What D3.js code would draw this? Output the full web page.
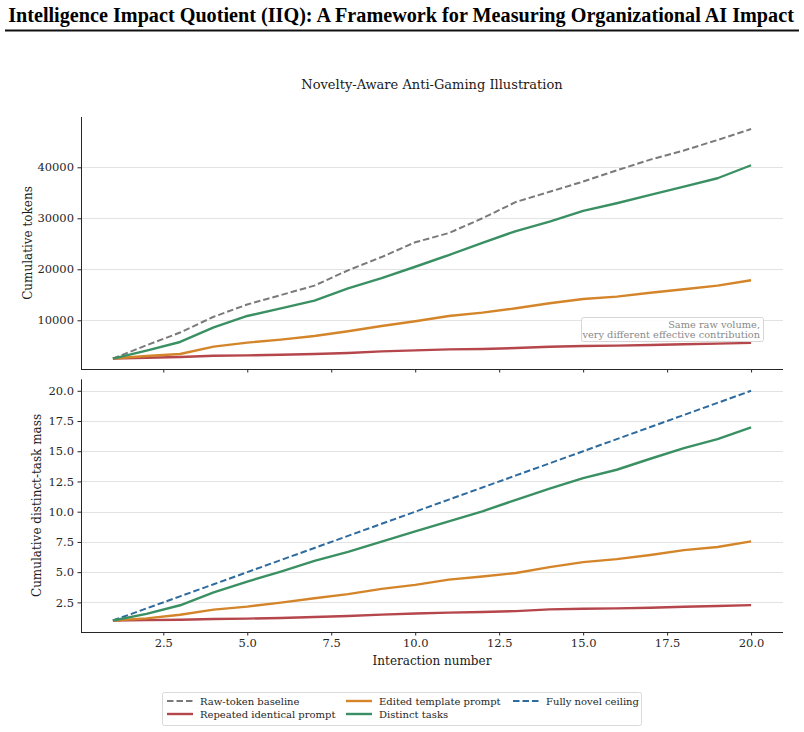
<!DOCTYPE html>
<html>
<head>
<meta charset="utf-8">
<script src="https://cdn.jsdelivr.net/npm/d3@7"></script>
<style>
	body{margin:0;background:#fff;}
	svg text{font-family:"DejaVu Serif",serif;}
	.tick text{font-size:11.5px;fill:#262626;}
	.tick line{stroke:#262626;}
	.domain{stroke:#262626;}
</style>
</head>
<body>
<div id="chart"></div>
<script>

// interaction index
const interactions = d3.range(1, 21);

// top panel: cumulative tokens
const rawTokens = [2500, 5100, 7600, 10700, 13100, 14950, 16800, 19800, 22400, 25300,
	27100, 30000, 33200, 35200, 37200, 39400, 41500, 43300, 45350, 47500];
const repeatedTokens = [2500, 2650, 2800, 3050, 3120, 3250, 3380, 3580, 3900, 4100,
	4300, 4380, 4560, 4820, 4950, 5030, 5160, 5290, 5420, 5580];
const editedTokens = [2500, 3000, 3400, 4830, 5620, 6200, 6920, 7840, 8880, 9800,
	10840, 11500, 12350, 13330, 14180, 14650, 15400, 16080, 16790, 17840];
const distinctTokens = [2500, 4050, 5750, 8600, 10850, 12350, 13850, 16250, 18250, 20500,
	22800, 25200, 27500, 29350, 31450, 32950, 34600, 36200, 37850, 40400];

// bottom panel: cumulative distinct-task mass
const repeatedMass = [1.0, 1.03, 1.06, 1.12, 1.16, 1.21, 1.29, 1.37, 1.49, 1.58,
	1.65, 1.70, 1.78, 1.92, 1.97, 2.0, 2.06, 2.14, 2.2, 2.27];
const editedMass = [1.0, 1.18, 1.48, 1.9, 2.15, 2.48, 2.84, 3.18, 3.62, 3.95,
	4.38, 4.64, 4.93, 5.42, 5.83, 6.08, 6.42, 6.82, 7.08, 7.55];
const distinctMass = [1.0, 1.55, 2.26, 3.32, 4.22, 5.05, 5.93, 6.67, 7.53, 8.37,
	9.2, 10.03, 10.98, 11.9, 12.78, 13.47, 14.38, 15.26, 16.0, 16.97];
const novelMass = interactions.slice();

const xTicks = [2.5, 5, 7.5, 10, 12.5, 15, 17.5, 20];
const topYTicks = [10000, 20000, 30000, 40000];
const bottomYTicks = [2.5, 5, 7.5, 10, 12.5, 15, 17.5, 20];

const series = {
	raw: {label: "Raw-token baseline", color: "#7a7a7a", dash: "6.5,3", width: 2},
	repeated: {label: "Repeated identical prompt", color: "#b5464b", dash: null, width: 2.4},
	edited: {label: "Edited template prompt", color: "#d4852a", dash: null, width: 2.4},
	distinct: {label: "Distinct tasks", color: "#3a9063", dash: null, width: 2.4},
	novel: {label: "Fully novel ceiling", color: "#2e6b9e", dash: "6.5,3", width: 2}
};

function draw(){

	const width = 804, height = 732;
	const left = 81, right = 783;

	let svg = d3.select("#chart").append("svg")
		.attr("width", width)
		.attr("height", height);

	//header
	svg.append("text")
		.attr("x", 401)
		.attr("y", 22)
		.attr("text-anchor", "middle")
		.style("font-family", "'Liberation Serif', 'Times New Roman', serif")
		.style("font-weight", "bold")
		.style("font-size", "20.2px")
		.attr("fill", "#000")
		.text("Intelligence Impact Quotient (IIQ): A Framework for Measuring Organizational AI Impact");

	svg.append("line")
		.attr("x1", 5).attr("x2", 799)
		.attr("y1", 30.5).attr("y2", 30.5)
		.attr("stroke", "#111")
		.attr("stroke-width", 2);

	svg.append("text")
		.attr("x", (left+right)/2)
		.attr("y", 89)
		.attr("text-anchor", "middle")
		.style("font-size", "13px")
		.attr("fill", "#1a1a1a")
		.text("Novelty-Aware Anti-Gaming Illustration");

	let x = d3.scaleLinear().domain([0.05, 20.95]).range([left, right]);

	//top panel
	let yTop = d3.scaleLinear().domain([450, 49860]).range([369, 117]);
	//bottom panel
	let yBot = d3.scaleLinear().domain([0.05, 20.95]).range([632, 379.3]);

	function panel(y, ticks, fmt, showXLabels){
		let g = svg.append("g");
		let [y0, y1] = y.range();

		//grid
		g.append("g").selectAll("line")
			.data(ticks)
			.enter().append("line")
			.attr("x1", left).attr("x2", right)
			.attr("y1", d => Math.round(y(d)) + 0.5)
			.attr("y2", d => Math.round(y(d)) + 0.5)
			.attr("stroke", "#e3e3e3")
			.attr("stroke-width", 1);

		g.append("g")
			.attr("transform", "translate(" + left + ",0)")
			.call(d3.axisLeft(y).tickValues(ticks).tickFormat(fmt).tickSizeInner(3.5).tickSizeOuter(0).tickPadding(3.5))
			.call(a => a.select(".domain").attr("d", "M0.5," + y0 + "V" + y1));

		g.append("g")
			.attr("transform", "translate(0," + y0 + ")")
			.call(d3.axisBottom(x).tickValues(xTicks).tickFormat(showXLabels ? d3.format(".1f") : "").tickSizeInner(3.5).tickSizeOuter(0).tickPadding(3.5))
			.call(a => a.select(".domain").attr("d", "M" + left + ",0.5H" + right));

		g.selectAll(".tick text").style("font-size", "11.5px");
		return g;
	}

	let gTop = panel(yTop, topYTicks, d3.format("d"), false);
	let gBot = panel(yBot, bottomYTicks, d3.format(".1f"), true);

	function addLine(g, y, values, s){
		let line = d3.line()
			.x((d, i) => x(interactions[i]))
			.y(d => y(d));
		g.append("path")
			.datum(values)
			.attr("d", line)
			.attr("fill", "none")
			.attr("stroke", s.color)
			.attr("stroke-width", s.width)
			.attr("stroke-dasharray", s.dash)
			.attr("stroke-linejoin", "round");
	}

	addLine(gTop, yTop, rawTokens, series.raw);
	addLine(gTop, yTop, repeatedTokens, series.repeated);
	addLine(gTop, yTop, editedTokens, series.edited);
	addLine(gTop, yTop, distinctTokens, series.distinct);

	addLine(gBot, yBot, novelMass, series.novel);
	addLine(gBot, yBot, repeatedMass, series.repeated);
	addLine(gBot, yBot, editedMass, series.edited);
	addLine(gBot, yBot, distinctMass, series.distinct);

	//annotation box
	gTop.append("rect")
		.attr("x", 581.5).attr("y", 317.5)
		.attr("width", 182).attr("height", 24)
		.attr("rx", 2)
		.attr("fill", "#fff")
		.attr("fill-opacity", 0.85)
		.attr("stroke", "#d6d6d6");
	gTop.append("text")
		.attr("x", 760).attr("y", 327.5)
		.attr("text-anchor", "end")
		.style("font-size", "9.8px")
		.attr("fill", "#8a8a8a")
		.text("Same raw volume,");
	gTop.append("text")
		.attr("x", 760).attr("y", 338)
		.attr("text-anchor", "end")
		.style("font-size", "9.8px")
		.attr("fill", "#8a8a8a")
		.text("very different effective contribution");

	//axis labels
	svg.append("text")
		.attr("transform", "translate(32," + ((117+369)/2) + ") rotate(-90)")
		.attr("text-anchor", "middle")
		.style("font-size", "12px")
		.attr("fill", "#1a1a1a")
		.text("Cumulative tokens");

	svg.append("text")
		.attr("transform", "translate(41," + ((379+632)/2) + ") rotate(-90)")
		.attr("text-anchor", "middle")
		.style("font-size", "12px")
		.attr("fill", "#1a1a1a")
		.text("Cumulative distinct-task mass");

	svg.append("text")
		.attr("x", (left+right)/2)
		.attr("y", 665)
		.attr("text-anchor", "middle")
		.style("font-size", "12px")
		.attr("fill", "#1a1a1a")
		.text("Interaction number");

	//legend
	let legend = svg.append("g");
	legend.append("rect")
		.attr("x", 162.5).attr("y", 692.5)
		.attr("width", 479).attr("height", 33)
		.attr("rx", 2)
		.attr("fill", "#fff")
		.attr("stroke", "#d9d9d9");

	let items = [
		{s: series.raw, x: 167, y: 701},
		{s: series.repeated, x: 167, y: 714},
		{s: series.edited, x: 346, y: 701},
		{s: series.distinct, x: 346, y: 714},
		{s: series.novel, x: 513, y: 701}
	];

	items.forEach(function(it){
		legend.append("line")
			.attr("x1", it.x).attr("x2", it.x + 26)
			.attr("y1", it.y).attr("y2", it.y)
			.attr("stroke", it.s.color)
			.attr("stroke-width", it.s.width)
			.attr("stroke-dasharray", it.s.dash);
		legend.append("text")
			.attr("x", it.x + 33)
			.attr("y", it.y + 3.5)
			.style("font-size", "10px")
			.attr("fill", "#262626")
			.text(it.s.label);
	});
}

draw();
</script>
</body>
</html>
